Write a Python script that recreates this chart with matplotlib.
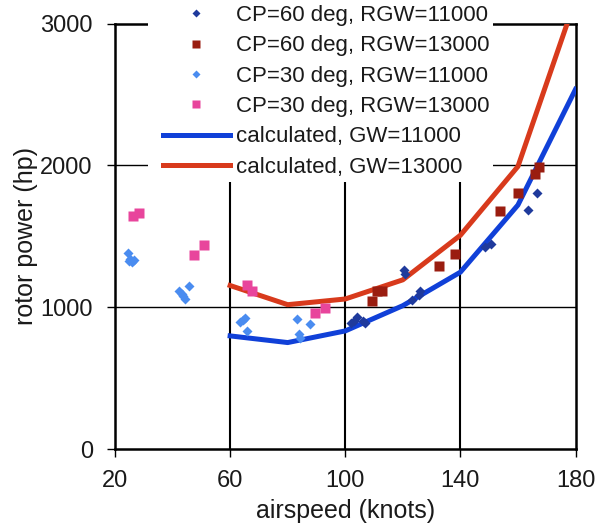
import matplotlib
matplotlib.use("Agg")
import matplotlib.pyplot as plt
from matplotlib.lines import Line2D
from matplotlib.patches import Rectangle

plt.rcParams['font.family'] = ['Liberation Sans', 'DejaVu Sans']

# ---- data ----
cp60_11_x = [102.0, 103.0, 104.1, 106.2, 107.0, 120.3, 120.9, 123.2, 125.6, 126.1, 148.7, 150.5, 163.6, 166.5]
cp60_11_y = [889, 905, 934, 901, 889, 1260, 1236, 1054, 1087, 1118, 1426, 1449, 1686, 1809]

cp60_13_x = [109.3, 111.1, 112.8, 132.5, 138.1, 153.7, 159.9, 166.1, 167.2]
cp60_13_y = [1047, 1118, 1118, 1288, 1374, 1676, 1804, 1940, 1988]

cp30_11_x = [24.4, 24.8, 25.3, 26.0, 26.5, 42.1, 43.3, 43.8, 44.4, 45.6,
             63.6, 64.5, 65.3, 65.9, 83.2, 83.8, 84.4, 87.9]
cp30_11_y = [1380, 1330, 1340, 1320, 1335, 1118, 1094, 1080, 1059, 1149,
             894, 910, 924, 835, 917, 811, 787, 881]

cp30_13_x = [26.2, 28.2, 47.6, 51.0, 65.9, 67.6, 89.4, 93.1]
cp30_13_y = [1645, 1662, 1366, 1437, 1158, 1118, 960, 993]

calc_x = [60, 80, 100, 120, 140, 160, 180]
calc_gw11000 = [799, 752, 834, 1012, 1248, 1721, 2536]
calc_gw13000 = [1154, 1019, 1059, 1194, 1508, 1993, 3170]

x_ticks = [20, 60, 100, 140, 180]
y_ticks = [0, 1000, 2000, 3000]

labels = ["CP=60 deg, RGW=11000", "CP=60 deg, RGW=13000",
          "CP=30 deg, RGW=11000", "CP=30 deg, RGW=13000",
          "calculated, GW=11000", "calculated, GW=13000"]

# ---- styles ----
c_dblue = '#1f3a9c'
c_dred = '#9a1d10'
c_lblue = '#4a8cf0'
c_pink = '#e8459c'
c_line_blue = '#1040d8'
c_line_red = '#d83a1c'
txt = '#1a1a1a'

fig = plt.figure(figsize=(6.0, 5.27), dpi=100)
ax = fig.add_axes([115 / 600, 77.7 / 527, 460.5 / 600, 425.8 / 527])

ax.set_xlim(20, 180)
ax.set_ylim(0, 3000)
ax.set_axisbelow(True)

for v in [60, 100, 140]:
    ax.axvline(v, color='black', lw=1.5, zorder=1)
for v in [1000, 2000]:
    ax.axhline(v, color='black', lw=1.0, zorder=1)

ax.plot(calc_x, calc_gw11000, color=c_line_blue, lw=3.6, zorder=4, solid_joinstyle='round')
ax.plot(calc_x, calc_gw13000, color=c_line_red, lw=3.6, zorder=4, solid_joinstyle='round')

ax.plot(cp30_11_x, cp30_11_y, 'D', color=c_lblue, ms=5.5, mec='none', zorder=5)
ax.plot(cp30_13_x, cp30_13_y, 's', color=c_pink, ms=6.5, mec='none', zorder=5)
ax.plot(cp60_11_x, cp60_11_y, 'D', color=c_dblue, ms=5.5, mec='none', zorder=5)
ax.plot(cp60_13_x, cp60_13_y, 's', color=c_dred, ms=6.5, mec='none', zorder=5)

for s in ax.spines.values():
    s.set_linewidth(1.8)
    s.set_color('black')
    s.set_zorder(2)

ax.set_xticks(x_ticks)
ax.set_yticks(y_ticks)
ax.tick_params(axis='both', direction='out', length=6, width=1.0, colors='black',
               labelsize=17, labelcolor=txt)
ax.tick_params(axis='x', pad=9)
ax.tick_params(axis='y', pad=10)

ax.set_xlabel('airspeed (knots)', fontsize=18, color=txt, labelpad=5)
ax.set_ylabel('rotor power (hp)', fontsize=18, color=txt, labelpad=2)

# white box behind the legend (covers grid and top spine)
fig.add_artist(Rectangle((148 / 600, (527 - 182) / 527), 345 / 600, 182 / 527,
                         transform=fig.transFigure, facecolor='white',
                         edgecolor='none', zorder=3))

handles = [
    Line2D([], [], ls='none', marker='D', color=c_dblue, ms=4.5, mec='none'),
    Line2D([], [], ls='none', marker='s', color=c_dred, ms=5.5, mec='none'),
    Line2D([], [], ls='none', marker='D', color=c_lblue, ms=4.5, mec='none'),
    Line2D([], [], ls='none', marker='s', color=c_pink, ms=5.5, mec='none'),
    Line2D([], [], color=c_line_blue, lw=3.6),
    Line2D([], [], color=c_line_red, lw=3.6),
]
leg = fig.legend(handles, labels, loc='upper left',
                 bbox_to_anchor=(163 / 600, 1 - 5 / 527),
                 frameon=False, fontsize=16, borderpad=0, borderaxespad=0,
                 handlelength=3.0, handletextpad=0.3, labelspacing=0.42)
leg.set_zorder(6)
for t in leg.get_texts():
    t.set_color(txt)

fig.savefig('out.png', dpi=100)
